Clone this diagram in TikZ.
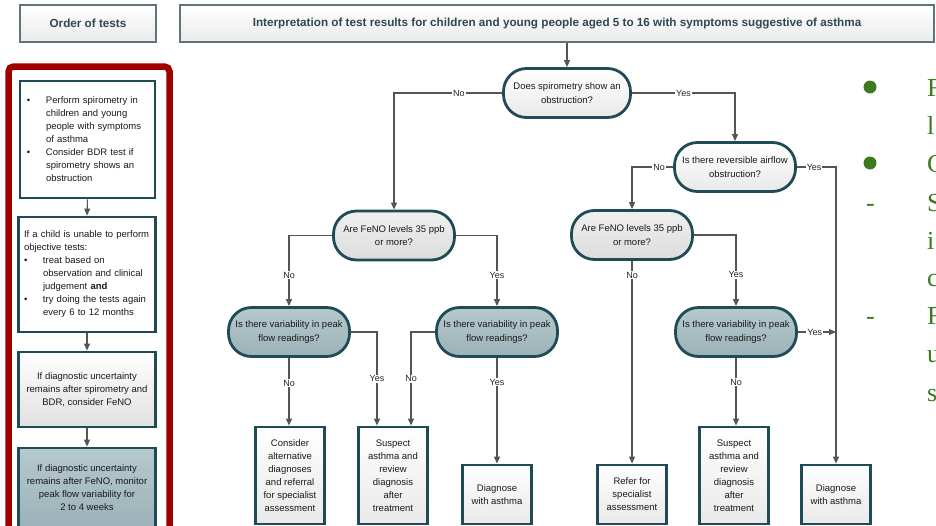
\documentclass[tikz,border=0pt]{standalone}
\usepackage{fontspec}
\setmainfont{Liberation Sans}
\newfontfamily\grnserif{Liberation Serif}
\usetikzlibrary{arrows.meta}
\definecolor{tealb}{HTML}{1F4B56}
\definecolor{conn}{HTML}{555555}
\definecolor{vartop}{HTML}{B6C9CD}
\definecolor{varbot}{HTML}{9BB2B8}
\definecolor{fenotop}{HTML}{F0F0F0}
\definecolor{fenobot}{HTML}{DCDCDC}
\definecolor{lighttop}{HTML}{FFFFFF}
\definecolor{lightbot}{HTML}{E9E9E9}
\definecolor{hdrtext}{HTML}{2D4853}
\definecolor{hdrline}{HTML}{5F747B}
\definecolor{framered}{HTML}{9E0000}
\definecolor{grn}{HTML}{3D7A1F}
\newcommand\bl{\makebox[19pt][l]{\textbullet}}
\newcommand\ind{\hspace*{19pt}}
\begin{document}
\begin{tikzpicture}[x=1pt,y=-1pt,
  hdr/.style={draw=hdrline, line width=1.2pt, top color=white, bottom color=black!8,
    font=\fontsize{11.7}{13}\selectfont\bfseries, text=hdrtext, inner sep=0pt},
  dec/.style={draw=tealb, line width=2.8pt, rounded corners=23pt, minimum width=121pt,
    minimum height=49pt, inner sep=0pt, align=center,
    font=\fontsize{9.5}{13.5}\selectfont, text=black!90},
  white dec/.style={dec, top color=lighttop, bottom color=lightbot},
  feno dec/.style={dec, top color=fenotop, bottom color=fenobot},
  var dec/.style={dec, top color=vartop, bottom color=varbot},
  endbox/.style={draw=tealb, line width=2.8pt, top color=lighttop, bottom color=lightbot,
    align=center, inner sep=0pt, minimum width=69pt,
    font=\fontsize{9.5}{13}\selectfont, text=black!90},
  sidebox/.style={draw=tealb, line width=2.8pt, inner sep=0pt, minimum width=137pt,
    font=\fontsize{9.5}{13}\selectfont, text=black!90},
  line/.style={draw=conn, line width=1.1pt},
  arr/.style={line, -{Triangle[length=7pt,width=6pt]}},
  lab/.style={fill=white, inner sep=1pt, font=\fontsize{9}{10}\selectfont, text=black!85},
]
\useasboundingbox (0,0) rectangle (936,525);

% headers
\node[hdr, minimum width=136pt, minimum height=37pt] (order) at (88,23.5) {Order of tests};
\node[hdr, minimum width=754pt, minimum height=37pt] (title) at (557,23.5)
  {Interpretation of test results for children and young people aged 5 to 16 with symptoms suggestive of asthma};

% left column
\draw[framered, line width=6.5pt, rounded corners=5pt] (8.5,545) -- (8.5,66.5) -- (169.5,66.5) -- (169.5,545);
\node[sidebox, fill=white, minimum width=135pt, minimum height=117pt, text width=121pt, align=left] (b1) at (87.5,139.5)
  {\bl Perform spirometry in\\ \ind children and young\\ \ind people with symptoms\\ \ind of asthma\\
   \bl Consider BDR test if\\ \ind spirometry shows an\\ \ind obstruction};
\node[sidebox, fill=white, minimum height=115pt, text width=126pt, align=left] (b2) at (87,274.5)
  {If a child is unable to perform\\ objective tests:\\ \bl treat based on\\ \ind observation and clinical\\
   \ind judgement \textbf{and}\\ \bl try doing the tests again\\ \ind every 6 to 12 months};
\node[sidebox, top color=white, bottom color=black!12, minimum height=75pt, align=center] (b3) at (87,389.5)
  {If diagnostic uncertainty\\ remains after spirometry and\\ BDR, consider FeNO};
\node[sidebox, top color=vartop, bottom color=varbot, minimum height=80pt, align=center] (b4) at (87,488)
  {If diagnostic uncertainty\\ remains after FeNO, monitor\\ peak flow variability for\\ 2 to 4 weeks};
\draw[arr] (b1.south) -- (b2.north);
\draw[arr] (b2.south) -- (b3.north);
\draw[arr] (b3.south) -- (b4.north);

% decisions
\node[white dec, minimum width=127pt] (spiro) at (567,93) {Does spirometry show an\\ obstruction?};
\node[white dec] (rev) at (735,167) {Is there reversible airflow\\ obstruction?};
\node[feno dec] (fenoL) at (394,235.5) {Are FeNO levels 35 ppb\\ or more?};
\node[feno dec] (fenoR) at (632,235) {Are FeNO levels 35 ppb\\ or more?};
\node[var dec] (varL) at (289,332) {Is there variability in peak\\ flow readings?};
\node[var dec] (varM) at (497,332) {Is there variability in peak\\ flow readings?};
\node[var dec] (varR) at (736,332) {Is there variability in peak\\ flow readings?};

% outcomes
\node[endbox, minimum height=97pt] (consider) at (290,475.5)
  {Consider\\ alternative\\ diagnoses\\ and referral\\ for specialist\\ assessment};
\node[endbox, minimum height=97pt] (suspL) at (393,475.5)
  {Suspect\\ asthma and\\ review\\ diagnosis\\ after\\ treatment};
\node[endbox, minimum height=59pt] (diagL) at (497,494.5) {Diagnose\\ with asthma};
\node[endbox, minimum height=59pt] (refer) at (632,494.5) {Refer for\\ specialist\\ assessment};
\node[endbox, minimum height=97pt] (suspR) at (734,475.5)
  {Suspect\\ asthma and\\ review\\ diagnosis\\ after\\ treatment};
\node[endbox, minimum height=59pt] (diagR) at (836,494.5) {Diagnose\\ with asthma};

% connectors
\draw[arr] (title.south -| spiro.north) -- (spiro.north);
\draw[arr] (spiro.west) -| node[lab, pos=0.2] {No} (fenoL.north);
\draw[arr] (spiro.east) -| node[lab, pos=0.25] {Yes} (rev.north);
\draw[arr] (rev.west) -| node[lab, pos=0.17] {No} (fenoR.north);
\draw[arr] (rev.east) -| node[lab, pos=0.22] {Yes} (diagR.north);
\draw[arr] (fenoL.west) -| node[lab, pos=0.78] {No} (varL.north);
\draw[arr] (fenoL.east) -| node[lab, pos=0.78] {Yes} (varM.north);
\draw[arr] (fenoR.south) -- node[lab, pos=0.07] {No} (refer.north);
\draw[arr] (fenoR.east) -| node[lab, pos=0.78] {Yes} (varR.north);
\draw[arr] (varL.south) -- node[lab, pos=0.37] {No} (varL.south |- consider.north);
\draw[arr] (varL.east) -| node[lab, pos=0.75] {Yes} ([xshift=-16pt]suspL.north);
\draw[arr] (varM.west) -| node[lab, pos=0.75] {No} ([xshift=18pt]suspL.north);
\draw[arr] (varM.south) -- node[lab, pos=0.23] {Yes} (diagL.north);
\draw[arr] (varR.south) -- node[lab, pos=0.36] {No} (varR.south |- suspR.north);
\draw[arr] (varR.east) -- node[lab, pos=0.44] {Yes} (varR.east -| diagR.north);

% right-hand green text (cut at the edge, as in the reference)
\begin{scope}
\clip (845,50) rectangle (936,420);
\fill[grn] (870,87) circle (6.5pt);
\fill[grn] (870,163) circle (6.5pt);
\begin{scope}[every node/.style={anchor=base west, inner sep=0pt, text=grn, font=\grnserif\fontsize{26}{30}\selectfont}]
\node (t1) at (927,96) {F};
\node (t2) at (927,134) {l};
\node (t3) at (927,172) {C};
\node (d1) at (866,211) {-};
\node (t4) at (927,211) {S};
\node (t5) at (927,249) {i};
\node (t6) at (927,286) {c};
\node (d2) at (866,324) {-};
\node (t7) at (927,324) {F};
\node (t8) at (927,362) {u};
\node (t9) at (927,401) {s};
\end{scope}
\end{scope}
\end{tikzpicture}
\end{document}
